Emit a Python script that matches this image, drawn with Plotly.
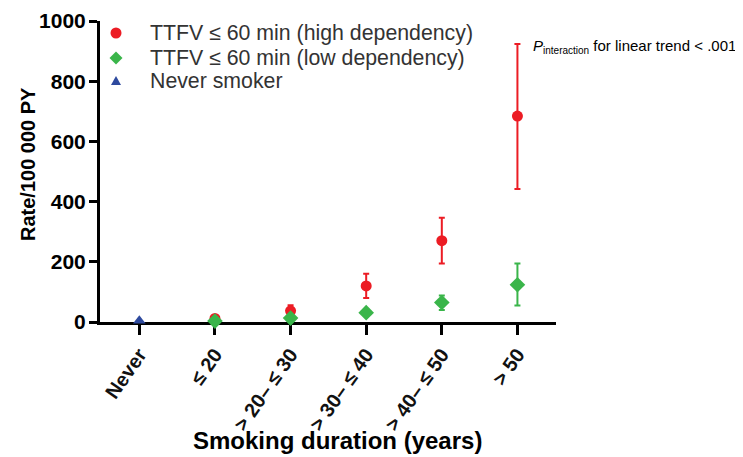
import plotly.graph_objects as go

categories = ["Never", "≤ 20", "> 20– ≤ 30", "> 30– ≤ 40", "> 40– ≤ 50", "> 50"]

high_x = ["≤ 20", "> 20– ≤ 30", "> 30– ≤ 40", "> 40– ≤ 50", "> 50"]
high_y = [12, 37, 120, 270, 684]
high_hi = [16, 56, 160, 346, 924]
high_lo = [8, 24, 80, 194, 442]

low_x = ["≤ 20", "> 20– ≤ 30", "> 30– ≤ 40", "> 40– ≤ 50", "> 50"]
low_y = [3, 13, 31, 65, 124]
low_hi = [5, 18, 38, 88, 194]
low_lo = [1, 9, 25, 40, 55]

never_x = ["Never"]
never_y = [4]

legend_labels = ["TTFV ≤ 60 min (high dependency)", "TTFV ≤ 60 min (low dependency)", "Never smoker"]

RED = "#ec1c24"
GREEN = "#3ab54a"
BLUE = "#2e4a9e"

def errs(y, hi, lo):
    return [h - v for v, h in zip(y, hi)], [v - l for v, l in zip(y, lo)]

hp, hm = errs(high_y, high_hi, high_lo)
lp, lm = errs(low_y, low_hi, low_lo)

fig = go.Figure()
fig.add_trace(go.Scatter(
    x=high_x, y=high_y, mode="markers", name=legend_labels[0], cliponaxis=False,
    marker=dict(symbol="circle", size=11, color=RED),
    error_y=dict(type="data", symmetric=False, array=hp, arrayminus=hm,
                 color=RED, thickness=2, width=3),
))
fig.add_trace(go.Scatter(
    x=low_x, y=low_y, mode="markers", name=legend_labels[1], cliponaxis=False,
    marker=dict(symbol="diamond", size=12, color=GREEN),
    error_y=dict(type="data", symmetric=False, array=lp, arrayminus=lm,
                 color=GREEN, thickness=2, width=3),
))
fig.add_trace(go.Scatter(
    x=never_x, y=never_y, mode="markers", name=legend_labels[2], cliponaxis=False,
    marker=dict(symbol="triangle-up", size=11, color=BLUE),
))

font_family = "Liberation Sans, Arial, sans-serif"

# layout geometry (figure pixels; page shows figure offset by 8px)
L, T, R, B = 92, 13, 195, 143
W, H = 743, 457
PW, PH = W - L - R, H - T - B

def px(fx):
    return (fx - L) / PW

def py(fy):
    return (H - B - fy) / PH

annotations = [
    dict(text="<b>Smoking duration (years)</b>", xref="paper", yref="paper",
         x=px(329), y=py(432), xanchor="center", yanchor="middle", showarrow=False,
         font=dict(size=24, family=font_family, color="#000")),
    dict(text="<b>Rate/100 000 PY</b>", xref="paper", yref="paper",
         x=px(20), y=py(156), xanchor="center", yanchor="middle", showarrow=False,
         textangle=-90, font=dict(size=20, family=font_family, color="#000")),
    dict(text="<i>P</i><sub><span style='font-size:10px'>interaction</span></sub> for linear trend < .001",
         xref="paper", yref="paper",
         x=px(523), y=py(38), xanchor="left", yanchor="middle", showarrow=False,
         font=dict(size=15, family=font_family, color="#000")),
]

rows_y = [25, 50, 73]
mark_x = 108
text_x = 140
for lab, fy in zip(legend_labels, rows_y):
    annotations.append(dict(text=lab, xref="paper", yref="paper", x=px(text_x), y=py(fy),
                            xanchor="left", yanchor="middle", showarrow=False,
                            font=dict(size=21.3, family=font_family, color="#333")))

shapes = [
    dict(type="circle", xref="paper", yref="paper", xsizemode="pixel", ysizemode="pixel",
         xanchor=px(mark_x), yanchor=py(rows_y[0]), x0=-5.5, x1=5.5, y0=-5.5, y1=5.5,
         fillcolor=RED, line=dict(width=0)),
    dict(type="path", xref="paper", yref="paper", xsizemode="pixel", ysizemode="pixel",
         xanchor=px(mark_x), yanchor=py(rows_y[1]),
         path="M -6.5 0 L 0 6.5 L 6.5 0 L 0 -6.5 Z", fillcolor=GREEN, line=dict(width=0)),
    dict(type="path", xref="paper", yref="paper", xsizemode="pixel", ysizemode="pixel",
         xanchor=px(mark_x), yanchor=py(rows_y[2]),
         path="M -5 -4 L 5 -4 L 0 5 Z", fillcolor=BLUE, line=dict(width=0)),
]

fig.update_layout(
    template="none",
    width=W, height=H,
    margin=dict(l=L, r=R, t=T, b=B, autoexpand=False),
    plot_bgcolor="white", paper_bgcolor="white",
    font=dict(family=font_family, color="#000"),
    showlegend=False,
    xaxis=dict(
        type="category", categoryorder="array", categoryarray=categories,
        range=[-0.52, 5.51], layer="below traces", automargin=False,
        showline=True, linecolor="#000", linewidth=3,
        ticks="outside", ticklen=10, tickwidth=3, tickcolor="#000",
        tickangle=-55, tickfont=dict(size=20, family=font_family, weight="bold", color="#111"),
        showgrid=False, zeroline=False,
    ),
    yaxis=dict(
        range=[0, 1000], tickvals=[0, 200, 400, 600, 800, 1000], layer="below traces",
        automargin=False,
        showline=True, linecolor="#000", linewidth=3,
        ticks="outside", ticklen=8, tickwidth=3, tickcolor="#000",
        ticklabelstandoff=-1,
        tickfont=dict(size=21, family=font_family, weight="bold", color="#000"),
        showgrid=False, zeroline=False,
    ),
    annotations=annotations,
    shapes=shapes,
)

fig.write_html("out.html")
